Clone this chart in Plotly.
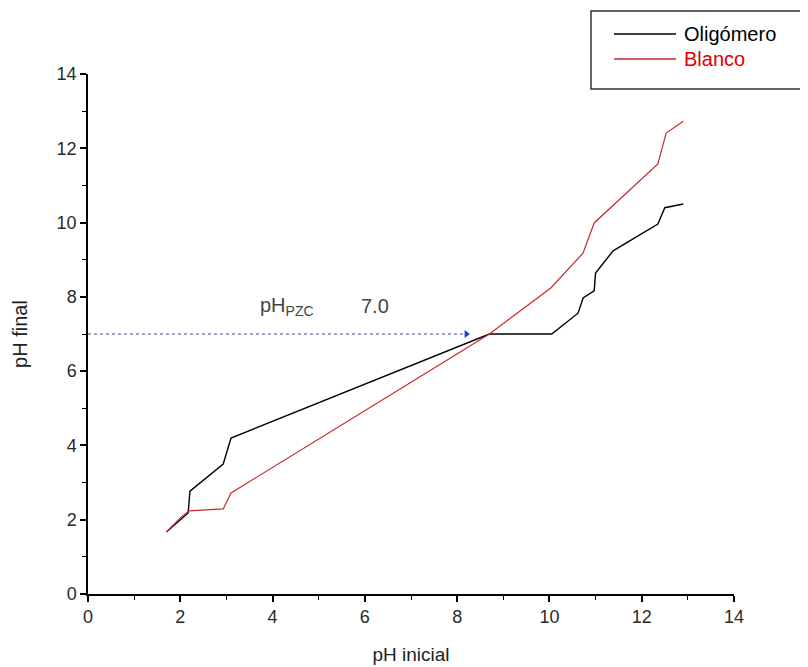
import plotly.graph_objects as go

# Oligómero (black)
olig_x = [1.7, 2.17, 2.21, 2.93, 3.1, 4.4, 8.7, 10.05, 10.4, 10.62, 10.73, 10.97, 11.0, 11.38, 12.35, 12.5, 12.9]
olig_y = [1.67, 2.18, 2.77, 3.5, 4.2, 4.85, 7.0, 7.0, 7.35, 7.56, 7.97, 8.16, 8.64, 9.24, 9.96, 10.4, 10.5]

# Blanco (red)
blanco_x = [1.7, 2.0, 2.19, 2.93, 3.1, 8.7, 10.03, 10.73, 10.97, 12.35, 12.53, 12.9]
blanco_y = [1.67, 2.05, 2.24, 2.29, 2.72, 7.0, 8.24, 9.18, 9.99, 11.58, 12.41, 12.73]

# pH_PZC guide
pzc_x = [0, 8.2]
pzc_y = [7.0, 7.0]
pzc_value = 7.0

x_ticks = [0, 2, 4, 6, 8, 10, 12, 14]
y_ticks = [0, 2, 4, 6, 8, 10, 12, 14]

series_names = ["Oligómero", "Blanco"]
series_colors = ["#000000", "#c8282a"]
legend_text_colors = ["#000000", "#e00000"]

FONT = "Liberation Sans, Arial, sans-serif"

fig = go.Figure()
fig.add_trace(go.Scatter(x=olig_x, y=olig_y, mode="lines", name=series_names[0],
                         line=dict(color=series_colors[0], width=1.4), showlegend=False))
fig.add_trace(go.Scatter(x=blanco_x, y=blanco_y, mode="lines", name=series_names[1],
                         line=dict(color=series_colors[1], width=1.2), showlegend=False))
fig.add_trace(go.Scatter(x=pzc_x, y=pzc_y, mode="lines", showlegend=False,
                         line=dict(color="#3a4a8a", width=1.2, dash="dot")))
fig.add_trace(go.Scatter(x=[pzc_x[-1]], y=[pzc_y[-1]], mode="markers", showlegend=False,
                         marker=dict(symbol="triangle-right", size=7, color="#1f3fd0")))

axis_common = dict(
    showgrid=False, zeroline=False, showline=True, linecolor="#000", linewidth=1.5,
    ticks="outside", ticklen=6, tickwidth=1.5, tickcolor="#000",
    tickfont=dict(family=FONT, size=18, color="#2a2a2a"),
    minor=dict(ticks="outside", ticklen=4, tickwidth=1.2, tickcolor="#000", dtick=1),
    dtick=2, mirror=False,
)

fig.update_layout(
    width=808, height=667,
    margin=dict(l=80, r=82, t=66, b=81),
    paper_bgcolor="white", plot_bgcolor="white",
    font=dict(family=FONT, color="#222"),
    xaxis=dict(range=[0, 14], tickvals=x_ticks,
               title=dict(text="pH inicial", font=dict(size=19, family=FONT, color="#222"), standoff=21),
               **axis_common),
    yaxis=dict(range=[0, 14], tickvals=y_ticks,
               title=dict(text="pH final", font=dict(size=20, family=FONT, color="#222"), standoff=24),
               **axis_common),
    showlegend=False,
)

# Legend box (extends past the right edge as in the reference)
fig.add_shape(type="rect", xref="paper", yref="paper", x0=0.7786, x1=1.25, y0=0.971, y1=1.121,
              line=dict(color="#333", width=1.5), fillcolor="rgba(0,0,0,0)")
legend_rows_y = [1.0769, 1.0288]
for name, lc, tc, ly in zip(series_names, series_colors, legend_text_colors, legend_rows_y):
    fig.add_shape(type="line", xref="paper", yref="paper", x0=0.8142, x1=0.9102, y0=ly, y1=ly,
                  line=dict(color=lc, width=1.4))
    fig.add_annotation(xref="paper", yref="paper", x=0.9195, y=ly, text=name, showarrow=False,
                       xanchor="left", yanchor="middle", font=dict(family=FONT, size=20, color=tc))

fig.add_annotation(x=3.68, y=7.75, xref="x", yref="y", text="pH<sub>PZC</sub>", showarrow=False,
                   xanchor="left", yanchor="middle", font=dict(family=FONT, size=20, color="#444"))
fig.add_annotation(x=5.87, y=7.75, xref="x", yref="y", text=f"{pzc_value:.1f}", showarrow=False,
                   xanchor="left", yanchor="middle", font=dict(family=FONT, size=20, color="#444"))

fig.write_html("out.html")
